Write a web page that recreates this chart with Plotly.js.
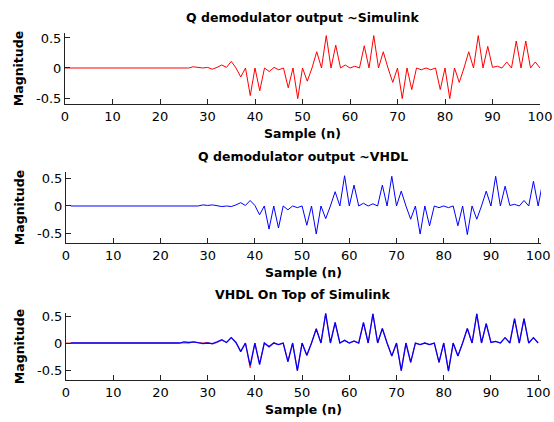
<!DOCTYPE html>
<html>
<head>
<meta charset="utf-8">
<script src="https://cdn.plot.ly/plotly-3.0.1.min.js"></script>
<style>
  html, body { margin: 0; padding: 0; background: #ffffff; }
  #chart { width: 554px; height: 422px; }
</style>
</head>
<body>
<div id="chart"></div>
<script>
// ---- Data ----
const titles = ["Q demodulator output ~Simulink", "Q demodulator output ~VHDL", "VHDL On Top of Simulink"];
const xLabel = "Sample (n)";
const yLabel = "Magnitude";
const xTicks = [0, 10, 20, 30, 40, 50, 60, 70, 80, 90, 100];
const yTicks = [-0.5, 0, 0.5];
const vhdlDelay = 4; // samples of latency between VHDL and Simulink outputs

// Simulink Q output, samples n = 0..100
const simulinkQ = [
  0, 0, 0, 0, 0, 0, 0, 0, 0, 0,
  0, 0, 0, 0, 0, 0, 0, 0, 0, 0,
  0, 0, 0, 0, 0, 0, 0, 0.02, 0.01, 0,
  0.01, -0.02, 0.01, 0.05, 0.01, 0.11, 0.0, -0.15, 0.0, -0.46,
  0.0, -0.38, 0.0, -0.06, 0.01, -0.03, 0.0, -0.33, 0.0, -0.51,
  0.0, -0.22, 0.0, 0.27, 0.0, 0.54, 0.0, 0.38, 0.0, 0.05,
  0.0, 0.03, 0.0, 0.37, 0.0, 0.54, 0.0, 0.27, 0.0, -0.24,
  0.0, -0.51, 0.0, -0.36, 0.0, -0.03, 0.0, -0.03, 0.0, -0.36,
  0.0, -0.51, 0.0, -0.24, 0.0, 0.27, 0.0, 0.54, 0.0, 0.36,
  0.01, 0.03, 0.0, 0.1, 0.0, 0.45, 0.0, 0.45, 0.0, 0.1,
  0.0
];

// VHDL Q output, samples n = 1..104
const vhdlQ = [
  0, 0, 0, 0, 0, 0, 0, 0, 0, 0,
  0, 0, 0, 0, 0, 0, 0, 0, 0, 0,
  0, 0, 0, 0, 0, 0, 0, 0, 0.02, 0.01,
  0.02, 0.0, -0.01, 0.0, -0.01, 0.02, 0.06, 0.01, 0.1, 0.01,
  -0.16, 0.0, -0.42, 0.0, -0.4, 0.0, -0.07, 0.0, -0.03, 0.0,
  -0.35, 0.0, -0.51, 0.0, -0.23, 0.0, 0.26, 0.0, 0.55, 0.0,
  0.38, 0.0, 0.05, 0.0, 0.04, 0.0, 0.38, 0.0, 0.54, 0.0,
  0.27, 0.0, -0.24, 0.0, -0.51, 0.0, -0.36, 0.0, -0.03, 0.0,
  -0.03, 0.0, -0.36, 0.0, -0.52, 0.0, -0.24, 0.0, 0.27, 0.0,
  0.54, 0.0, 0.36, 0.01, 0.03, 0.0, 0.1, 0.0, 0.45, 0.0,
  0.45, 0.0, 0.1, 0.0
];

const simN = simulinkQ.map((_, i) => i);        // 0..100
const vhdlN = vhdlQ.map((_, i) => i + 1);       // 1..104
// aligned VHDL (delay removed) for the overlay plot
const alignedN = [], alignedQ = [];
vhdlN.forEach((n, i) => { if (n - vhdlDelay >= 1) { alignedN.push(n - vhdlDelay); alignedQ.push(vhdlQ[i]); } });

// ---- Layout helpers (pixel based) ----
const W = 554, H = 422;
const px = v => v / W;
const py = v => (H - v) / H;

const tickFont = { family: "DejaVu Sans, Arial, sans-serif", size: 13, color: "#000" };
const boldFont = { family: "DejaVu Sans, Arial, sans-serif", size: 12.5, color: "#000", weight: "bold" };

function xAxis(domain, range, anchor) {
  return {
    domain: domain, range: range, anchor: anchor,
    tickvals: xTicks, ticktext: xTicks.map(String),
    ticks: "inside", ticklen: 5, tickwidth: 1, tickcolor: "#222",
    showline: true, linecolor: "#222", linewidth: 1,
    showgrid: false, zeroline: false, tickfont: tickFont, fixedrange: true,
    title: { text: xLabel, font: boldFont, standoff: 6 }
  };
}
function yAxis(domain, range, anchor) {
  return {
    domain: domain, range: range, anchor: anchor,
    tickvals: yTicks, ticktext: ["-0.5", "0", "0.5"],
    ticks: "inside", ticklen: 5, tickwidth: 1, tickcolor: "#222",
    showline: true, linecolor: "#222", linewidth: 1,
    showgrid: false, zeroline: false, tickfont: tickFont, fixedrange: true,
    title: { text: yLabel, font: boldFont, standoff: 9 }
  };
}

const red = "#ff0000", blue = "#0000ff";
const traces = [
  { x: simN, y: simulinkQ, type: "scatter", mode: "lines", line: { color: red, width: 1 }, xaxis: "x", yaxis: "y", name: "Simulink" },
  { x: vhdlN, y: vhdlQ, type: "scatter", mode: "lines", line: { color: blue, width: 1 }, xaxis: "x2", yaxis: "y2", name: "VHDL" },
  { x: simN, y: simulinkQ, type: "scatter", mode: "lines", line: { color: red, width: 0.8 }, xaxis: "x3", yaxis: "y3", name: "Simulink" },
  { x: alignedN, y: alignedQ, type: "scatter", mode: "lines", line: { color: blue, width: 1.3 }, xaxis: "x3", yaxis: "y3", name: "VHDL" }
];

const layout = {
  width: W, height: H,
  margin: { l: 0, r: 0, t: 0, b: 0 },
  paper_bgcolor: "#ffffff", plot_bgcolor: "#ffffff",
  showlegend: false,
  xaxis:  xAxis([px(65), px(540)], [0, 100], "y"),
  yaxis:  yAxis([py(104), py(33)], [-0.6, 0.583], "x"),
  xaxis2: xAxis([px(66), px(541)], [0, 100.6], "y2"),
  yaxis2: yAxis([py(243), py(172)], [-0.673, 0.618], "x2"),
  xaxis3: xAxis([px(66), px(541)], [0, 100.6], "y3"),
  yaxis3: yAxis([py(380), py(313)], [-0.685, 0.556], "x3"),
  annotations: [
    { text: titles[0], x: px(302), y: py(17), xref: "paper", yref: "paper", showarrow: false, font: boldFont, xanchor: "center", yanchor: "middle" },
    { text: titles[1], x: px(303), y: py(156), xref: "paper", yref: "paper", showarrow: false, font: boldFont, xanchor: "center", yanchor: "middle" },
    { text: titles[2], x: px(303), y: py(294), xref: "paper", yref: "paper", showarrow: false, font: boldFont, xanchor: "center", yanchor: "middle" }
  ]
};

Plotly.newPlot("chart", traces, layout, { staticPlot: true, displayModeBar: false });
</script>
</body>
</html>
